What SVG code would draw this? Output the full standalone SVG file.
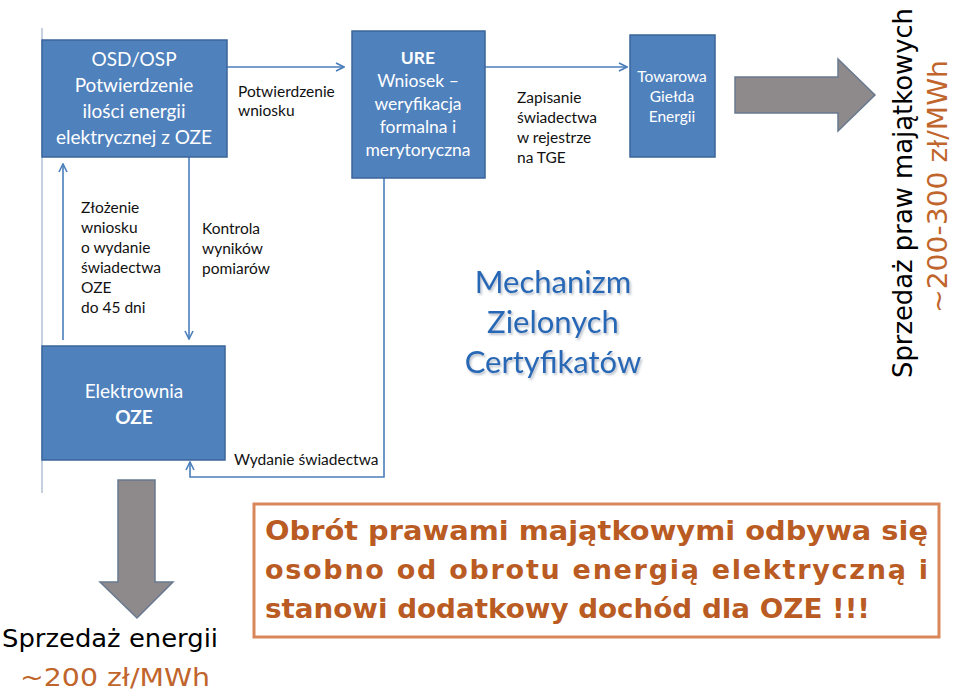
<svg xmlns="http://www.w3.org/2000/svg" width="960" height="696" viewBox="0 0 960 696">
<style>
.box{fill:#4f81bd;stroke:#3b659a;stroke-width:1.5}
.bt{font-family:Lato,"Liberation Sans",sans-serif;fill:#ffffff;text-anchor:middle}
.lb{font-family:Lato,"Liberation Sans",sans-serif;fill:#111111;font-size:15.5px}
.con{fill:none;stroke:#4a7ebb;stroke-width:1.6}
.big{fill:#8e8a8c;stroke:#68798f;stroke-width:1.5}
.gt{font-family:"DejaVu Sans","Liberation Sans",sans-serif}
.or{fill:#c0652c}
</style>
<defs>
<marker id="ah" viewBox="0 0 10 10" refX="9" refY="5" markerWidth="10" markerHeight="10" markerUnits="userSpaceOnUse" orient="auto">
<path d="M1,1 L9,5 L1,9" fill="none" stroke="#4a7ebb" stroke-width="1.6"/>
</marker>
<filter id="sh" x="-10%" y="-30%" width="120%" height="160%">
<feDropShadow dx="1.5" dy="2" stdDeviation="1" flood-color="#8a97a8" flood-opacity="0.6"/>
</filter>
</defs>
<rect width="960" height="696" fill="#ffffff"/>
<line x1="42" y1="28" x2="42" y2="493" stroke="#9fb3cc" stroke-width="1.2"/>

<g id="connectors">
<line class="con" x1="227" y1="67" x2="344" y2="67" marker-end="url(#ah)"/>
<line class="con" x1="485" y1="67" x2="627" y2="67" marker-end="url(#ah)"/>
<line class="con" x1="63" y1="340" x2="63" y2="164" marker-end="url(#ah)"/>
<line class="con" x1="189" y1="157" x2="189" y2="339" marker-end="url(#ah)"/>
<polyline class="con" points="384,178 384,477 190,477 190,462" marker-end="url(#ah)"/>
<text class="lb" x="238" y="97">Potwierdzenie</text>
<text class="lb" x="238" y="116">wniosku</text>
<text class="lb" x="517" y="103">Zapisanie</text>
<text class="lb" x="517" y="123">świadectwa</text>
<text class="lb" x="517" y="143">w rejestrze</text>
<text class="lb" x="517" y="163">na TGE</text>
<text class="lb" x="81" y="213">Złożenie</text>
<text class="lb" x="81" y="233">wniosku</text>
<text class="lb" x="81" y="253">o wydanie</text>
<text class="lb" x="81" y="273">świadectwa</text>
<text class="lb" x="81" y="293">OZE</text>
<text class="lb" x="81" y="313">do 45 dni</text>
<text class="lb" x="202" y="234">Kontrola</text>
<text class="lb" x="202" y="254">wyników</text>
<text class="lb" x="202" y="274">pomiarów</text>
<text class="lb" x="234" y="465">Wydanie świadectwa</text>
</g>

<g id="osd">
<rect class="box" x="42" y="40" width="185" height="117"/>
<text class="bt" x="134" y="66" font-size="19">OSD/OSP</text>
<text class="bt" x="134" y="92" font-size="19">Potwierdzenie</text>
<text class="bt" x="134" y="118" font-size="19">ilości energii</text>
<text class="bt" x="134" y="144" font-size="19">elektrycznej z OZE</text>
</g>

<g id="ure">
<rect class="box" x="352" y="31" width="133" height="147"/>
<text class="bt" x="418" y="64" font-size="17.5" font-weight="bold">URE</text>
<text class="bt" x="418" y="87" font-size="17.5">Wniosek –</text>
<text class="bt" x="418" y="110" font-size="17.5">weryfikacja</text>
<text class="bt" x="418" y="133" font-size="17.5">formalna i</text>
<text class="bt" x="418" y="156" font-size="17.5">merytoryczna</text>
</g>

<g id="tge">
<rect class="box" x="630" y="35" width="85" height="122"/>
<text class="bt" x="672" y="82" font-size="15.5">Towarowa</text>
<text class="bt" x="672" y="102" font-size="15.5">Giełda</text>
<text class="bt" x="672" y="122" font-size="15.5">Energii</text>
</g>

<g id="elektrownia">
<rect class="box" x="42" y="346" width="183" height="114"/>
<text class="bt" x="134" y="398" font-size="19">Elektrownia</text>
<text class="bt" x="134" y="424" font-size="19" font-weight="bold">OZE</text>
</g>

<g id="title" font-family="Lato,'Liberation Sans',sans-serif" font-size="31" text-anchor="middle" fill="#2568b5" filter="url(#sh)">
<text x="553" y="293">Mechanizm</text>
<text x="553" y="333">Zielonych</text>
<text x="553" y="373">Certyfikatów</text>
</g>

<g id="arrow-right">
<polygon class="big" points="735,77 838,77 838,59 875,95 838,131 838,113 735,113"/>
</g>
<g id="arrow-down">
<polygon class="big" points="118,480 155,480 155,582 173,582 137,618 100,582 118,582"/>
</g>

<g id="sales-right">
<text class="gt" transform="translate(912,378) rotate(-90)" font-size="26" fill="#000000" textLength="370" lengthAdjust="spacingAndGlyphs">Sprzedaż praw majątkowych</text>
<text class="gt or" transform="translate(947,313) rotate(-90)" font-size="26" textLength="253" lengthAdjust="spacingAndGlyphs">~200-300 zł/MWh</text>
</g>

<g id="sales-down">
<text class="gt" x="2" y="647" font-size="24" fill="#000000" textLength="216" lengthAdjust="spacingAndGlyphs">Sprzedaż energii</text>
<text class="gt or" x="20" y="686" font-size="25" textLength="190" lengthAdjust="spacingAndGlyphs">~200 zł/MWh</text>
</g>

<g id="note">
<rect x="254" y="504" width="685" height="133" fill="#ffffff" stroke="#d9875a" stroke-width="3"/>
<g class="gt" font-weight="bold" font-size="27" fill="#b95b22">
<text x="265" y="540" textLength="663" lengthAdjust="spacingAndGlyphs">Obrót prawami majątkowymi odbywa się</text>
<text x="265" y="579" textLength="663" lengthAdjust="spacing">osobno od obrotu energią elektryczną i</text>
<text x="265" y="618" textLength="605" lengthAdjust="spacingAndGlyphs">stanowi dodatkowy dochód dla OZE !!!</text>
</g>
</g>
</svg>
